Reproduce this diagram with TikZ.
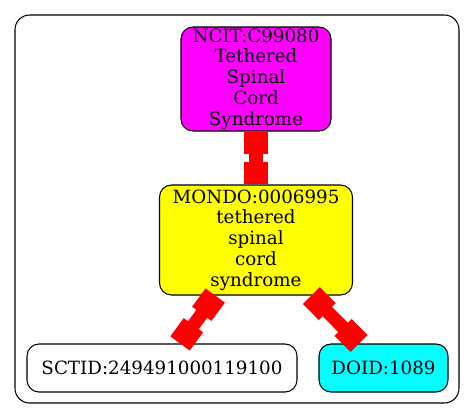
\documentclass[tikz,border=0pt]{standalone}
\usepackage{fontspec}
\setmainfont{DejaVu Serif}
\usetikzlibrary{arrows.meta}
\definecolor{ncitfill}{RGB}{255,0,255}
\definecolor{mondofill}{RGB}{255,255,0}
\definecolor{doidfill}{RGB}{0,255,255}
\definecolor{linkred}{RGB}{255,0,0}

\begin{document}
\begin{tikzpicture}[x=0.75pt,y=-0.75pt,
    term/.style={draw=black,line width=0.8pt,rounded corners=9pt,align=center,
      inner sep=0pt,font=\fontsize{13.7}{15.6}\selectfont},
    link/.style={draw=linkred,line width=10pt,
      {Square[length=17pt,width=18pt]}-{Square[length=17pt,width=18pt]}}]
  \useasboundingbox (0,0) rectangle (475,419);
  % outer frame
  \draw[line width=0.8pt,rounded corners=11pt] (15,15) rectangle (459,403);

  % terms
  \node[term,fill=ncitfill,minimum width=112.5pt,minimum height=78pt] (ncit) at (256,79)
    {NCIT:C99080\\Tethered\\Spinal\\Cord\\Syndrome};
  \node[term,fill=mondofill,minimum width=144.75pt,minimum height=82.5pt] (mondo) at (256,240)
    {MONDO:0006995\\tethered\\spinal\\cord\\syndrome};
  \node[term,fill=white,minimum width=202.5pt,minimum height=36pt] (sctid) at (162,368)
    {SCTID:249491000119100};
  \node[term,fill=doidfill,minimum width=96.75pt,minimum height=36pt] (doid) at (383.5,368)
    {DOID:1089};

  % mappings
  \draw[link] (ncit) -- (mondo);
  \draw[link] (mondo) -- (sctid);
  \draw[link] (mondo) -- (doid);
\end{tikzpicture}
\end{document}
